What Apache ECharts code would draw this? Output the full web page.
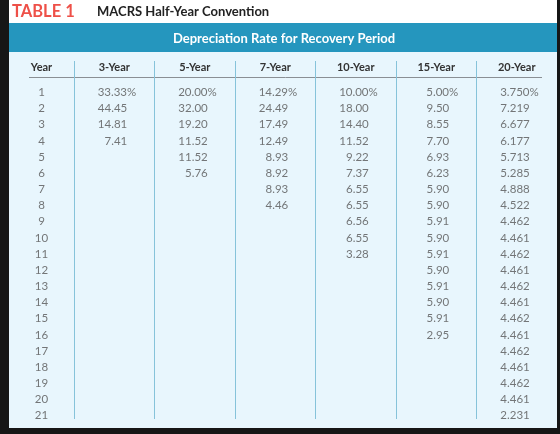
<!DOCTYPE html>
<html><head><meta charset="utf-8">
<script src="https://cdn.jsdelivr.net/npm/echarts@6/dist/echarts.min.js"></script>
<style>html,body{margin:0;padding:0;background:#161616}#c{width:560px;height:434px}</style>
</head><body><div id="c"></div>
<script>
const tableLabel = 'TABLE 1';
const tableTitle = 'MACRS Half-Year Convention';
const bandTitle = 'Depreciation Rate for Recovery Period';
const yearHeader = ['Year'];
const years = ['1','2','3','4','5','6','7','8','9','10','11','12','13','14','15','16','17','18','19','20','21'];
const periods = ['3-Year','5-Year','7-Year','10-Year','15-Year','20-Year'];
const rates3 = [33.33, 44.45, 14.81, 7.41];
const rates5 = [20.00, 32.00, 19.20, 11.52, 11.52, 5.76];
const rates7 = [14.29, 24.49, 17.49, 12.49, 8.93, 8.92, 8.93, 4.46];
const rates10 = [10.00, 18.00, 14.40, 11.52, 9.22, 7.37, 6.55, 6.55, 6.56, 6.55, 3.28];
const rates15 = [5.00, 9.50, 8.55, 7.70, 6.93, 6.23, 5.90, 5.90, 5.91, 5.90, 5.91, 5.90, 5.91, 5.90, 5.91, 2.95];
const rates20 = [3.750, 7.219, 6.677, 6.177, 5.713, 5.285, 4.888, 4.522, 4.462, 4.461, 4.462, 4.461, 4.462, 4.461, 4.462, 4.461, 4.462, 4.461, 4.462, 4.461, 2.231];
const decimals = [2, 2, 2, 2, 2, 3];

const allRates = [rates3, rates5, rates7, rates10, rates15, rates20];
const FONT = 'Lato, "Open Sans", sans-serif';
const chart = echarts.init(document.getElementById('c'), null, {renderer: 'canvas'});

const GRID_TOP = 84.2, GRID_H = 339.6;
const headerLabel = {show: true, interval: 0, fontFamily: FONT, fontWeight: 'bold', fontSize: 11, color: '#333', margin: 11};

const series = [{
  type: 'scatter', xAxisIndex: 0, yAxisIndex: 0, symbolSize: 0, silent: true,
  data: years.map((y, i) => [0, i]),
  label: {show: true, position: 'inside', align: 'center', verticalAlign: 'middle',
    fontFamily: FONT, fontSize: 11.5, color: '#555',
    formatter: p => years[p.value[1]]}
}];
allRates.forEach((vals, j) => {
  series.push({
    type: 'scatter', xAxisIndex: 1, yAxisIndex: 1, symbolSize: 0, silent: true,
    data: vals.map((v, i) => ({value: [j, i, v], label: {offset: [i === 0 ? 22 : 13, 0]}})),
    label: {show: true, position: 'inside', align: 'right', verticalAlign: 'middle',
      fontFamily: FONT, fontSize: 11.5, color: '#555',
      formatter: p => p.value[2].toFixed(decimals[j]) + (p.value[1] === 0 ? '%' : '')}
  });
});

chart.setOption({
  animation: false,
  backgroundColor: '#161616',
  graphic: [
    {type: 'rect', shape: {x: 9, y: 0, width: 548, height: 428}, style: {fill: '#ffffff'}, z: -10},
    {type: 'rect', shape: {x: 9, y: 23, width: 548, height: 29}, style: {fill: '#2596be'}, z: -9},
    {type: 'rect', shape: {x: 9, y: 52, width: 548, height: 376}, style: {fill: '#e8f6fd'}, z: -9},
    {type: 'line', shape: {x1: 29, y1: 77.5, x2: 542, y2: 77.5}, style: {stroke: '#8a8f94', lineWidth: 1}, z: -5},
    {type: 'text', x: 12, y: 11.5, style: {text: tableLabel, fill: '#ee5048', font: 'bold 16.5px ' + FONT, textVerticalAlign: 'middle'}},
    {type: 'text', x: 97, y: 12, style: {text: tableTitle, fill: '#222', font: 'bold 13px ' + FONT, textVerticalAlign: 'middle'}},
    {type: 'text', x: 284, y: 39, style: {text: bandTitle, fill: '#ffffff', font: 'bold 13px ' + FONT, textAlign: 'center', textVerticalAlign: 'middle'}}
  ],
  grid: [
    {left: 9, width: 65, top: GRID_TOP, height: GRID_H},
    {left: 74, width: 483, top: GRID_TOP, height: GRID_H},
    {left: 74, width: 483, top: 61, height: 358}
  ],
  xAxis: [
    {gridIndex: 0, type: 'category', data: yearHeader, position: 'top', boundaryGap: true,
      axisLine: {show: false}, axisTick: {show: false}, splitLine: {show: false}, axisLabel: headerLabel},
    {gridIndex: 1, type: 'category', data: periods, position: 'top', boundaryGap: true,
      axisLine: {show: false}, axisTick: {show: false}, splitLine: {show: false}, axisLabel: headerLabel},
    {gridIndex: 2, type: 'category', data: periods, boundaryGap: true,
      axisLine: {show: false}, axisTick: {show: false}, axisLabel: {show: false},
      splitLine: {show: true, interval: 0, showMinLine: true, showMaxLine: false, lineStyle: {color: '#86c3da', width: 1}}}
  ],
  yAxis: [
    {gridIndex: 0, type: 'category', data: years, inverse: true, boundaryGap: true, show: false},
    {gridIndex: 1, type: 'category', data: years, inverse: true, boundaryGap: true, show: false},
    {gridIndex: 2, type: 'value', show: false}
  ],
  series: series
});
</script></body></html>
